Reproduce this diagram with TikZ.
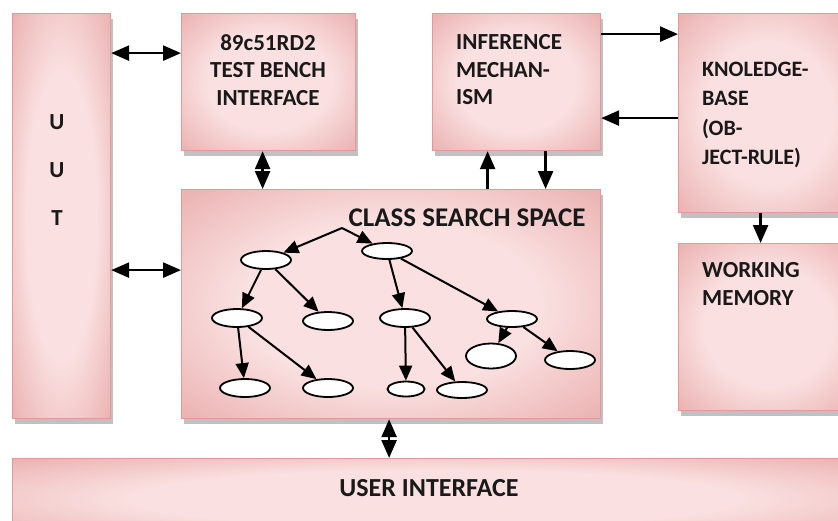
\documentclass[tikz,border=0pt]{standalone}
\usepackage{fontspec}
\setmainfont{Carlito}
\usetikzlibrary{arrows.meta,shadows,shapes.geometric}

\definecolor{boxdark}{RGB}{223,138,138}
\definecolor{boxlight}{RGB}{250,224,224}
\definecolor{boxedge}{RGB}{230,152,152}
\pgfdeclareradialshading{boxshade}{\pgfpoint{0bp}{0bp}}{color(0bp)=(boxlight); color(18bp)=(boxlight); color(50bp)=(boxdark); color(72bp)=(boxdark)}

\begin{document}
\begin{tikzpicture}[x=1pt,y=-1pt]

\tikzset{block/.style = {shape=rectangle, draw=boxedge, line width=1.2pt, shading=boxshade, anchor=north west, inner sep=0pt,
  drop shadow={shadow xshift=2pt, shadow yshift=-5pt, fill=gray!60, opacity=.8}}}
\tikzset{lbl/.style = {font=\bfseries\fontsize{23}{27.5}\selectfont, text=black!90, inner sep=0pt}}
\tikzset{leaf/.style = {shape=ellipse, draw, line width=1.8pt, fill=white, inner sep=0pt}}
\tikzset{bus/.style = {line width=2.5pt, {Triangle[length=18pt,width=15pt]}-{Triangle[length=18pt,width=15pt]}}}
\tikzset{flow/.style = {line width=2.5pt, -{Triangle[length=18pt,width=15pt]}}}
\tikzset{edge/.style = {line width=2pt, -{Triangle[length=15pt,width=13pt]}}}

\clip (0,0) rectangle (838,520);

% blocks
\node[block, minimum width=98pt, minimum height=405pt] (uut) at (12,13) {};
\node[block, minimum width=174pt, minimum height=137pt] (bench) at (181,13) {};
\node[block, minimum width=168pt, minimum height=137pt] (infer) at (432,13) {};
\node[block, minimum width=180pt, minimum height=199pt] (kb) at (678,13) {};
\node[block, minimum width=180pt, minimum height=167pt] (wm) at (678,243) {};
\node[block, minimum width=419pt, minimum height=229pt] (css) at (181,189) {};
\node[block, minimum width=846pt, minimum height=80pt] (ui) at (12,458) {};

% texts
\node[lbl, align=center, font=\bfseries\fontsize{23}{48}\selectfont] (uuttext) at (57,170) {U\\U\\T};
\node[lbl, align=center] (benchtext) at (268,70) {89c51RD2\\TEST BENCH\\INTERFACE};
\node[lbl, align=left, anchor=west] (infertext) at (456,70) {INFERENCE\\MECHAN-\\ISM};
\node[lbl, align=left, anchor=west, font=\bfseries\fontsize{22}{29.5}\selectfont] (kbtext) at (702,115) {KNOLEDGE-\\BASE\\(OB-\\JECT-RULE)};
\node[lbl, align=left, anchor=west] (wmtext) at (702,284) {WORKING\\MEMORY};
\node[lbl, font=\bfseries\fontsize{27}{30}\selectfont] (csstext) at (467,218) {CLASS SEARCH SPACE};
\node[lbl, font=\bfseries\fontsize{26}{30}\selectfont] (uitext) at (429,488) {USER INTERFACE};

% links between blocks
\coordinate (p1) at ([yshift=29pt]bench.west);
\draw[bus] (p1 -| uut.east) -- (p1);
\coordinate (p2) at ([xshift=-6pt]bench.south);
\draw[bus] (p2) -- (p2 |- css.north);
\coordinate (p3) at ([yshift=34pt]css.west);
\draw[bus] (p3 -| uut.east) -- (p3);
\coordinate (p4) at ([yshift=48pt]infer.east);
\draw[flow] (p4) -- (p4 -| kb.west);
\coordinate (p5) at ([yshift=-36pt]infer.east);
\draw[flow] (p5 -| kb.west) -- (p5);
\coordinate (p6) at ([xshift=-29pt]infer.south);
\draw[flow] (p6 |- css.north) -- (p6);
\coordinate (p7) at ([xshift=29pt]infer.south);
\draw[flow] (p7) -- (p7 |- css.north);
\coordinate (p8) at ([xshift=-8pt]kb.south);
\draw[flow] (p8) -- (p8 |- wm.north);
\coordinate (p9) at ([xshift=-2pt]css.south);
\draw[bus] (p9) -- (p9 |- ui.north);

% search tree
\coordinate (root) at (342,228);
\foreach \pos/\name/\w/\h in {{(266,260)/a/50/18}, {(387,251)/b/50/16}, {(237,318)/c/50/18}, {(328,321)/d/50/18},
  {(405,318)/e/50/18}, {(512,319)/f/50/16}, {(491,356)/g/50/25}, {(570,360)/h/50/18},
  {(245,388)/i/50/18}, {(328,388)/j/50/18}, {(406,389)/k/37/15}, {(462,390)/m/50/16}}
\node[leaf, minimum width=\w pt, minimum height=\h pt] (\name) at \pos {};

\foreach \from/\to in {root/a, root/b, a/c, a/d, b/e, b/f, c/i, c/j, e/k, e/m, f/g, f/h}
\draw[edge] (\from) -- (\to);

\end{tikzpicture}
\end{document}
